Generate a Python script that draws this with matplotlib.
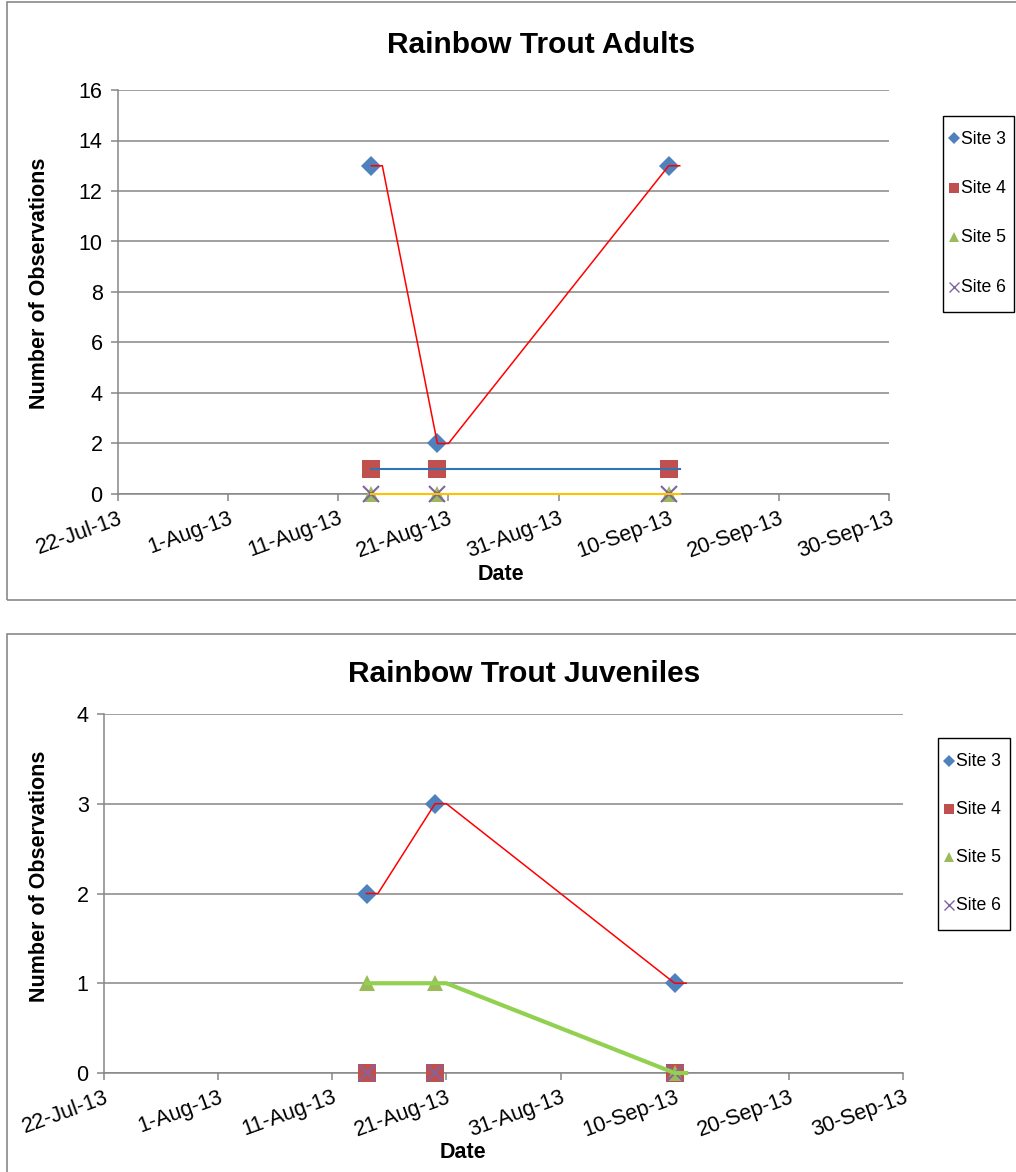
"""
Rainbow Trout observations by site (adults and juveniles), Excel-style charts.
Output: out.png
"""

import numpy as np
import pandas as pd
import matplotlib
matplotlib.use("Agg")
import matplotlib.pyplot as plt
import matplotlib.dates as mdates
from matplotlib.lines import Line2D
from matplotlib.patches import Rectangle

plt.rcParams["font.family"] = ["Liberation Sans", "DejaVu Sans"]

# ── Data ──────────────────────────────────────────────────────────────
SURVEY_DATES = ["2013-08-14", "2013-08-20", "2013-09-10"]
SITES = ["Site 3", "Site 4", "Site 5", "Site 6"]

ADULT_SITE3 = [13, 2, 13]
ADULT_SITE4 = [1, 1, 1]
ADULT_SITE5 = [0, 0, 0]
ADULT_SITE6 = [0, 0, 0]

JUV_SITE3 = [2, 3, 1]
JUV_SITE4 = [0, 0, 0]
JUV_SITE5 = [1, 1, 0]
JUV_SITE6 = [0, 0, 0]

X_START, X_END = "2013-07-22", "2013-09-30"
ADULT_YTICKS = [0, 2, 4, 6, 8, 10, 12, 14, 16]
JUV_YTICKS = [0, 1, 2, 3, 4]

# ── Styles ────────────────────────────────────────────────────────────
W, H = 1016, 1172
GRID = "#868686"
MARKERS = {
    "Site 3": dict(marker="D", color="#4F81BD", ms=10),
    "Site 4": dict(marker="s", color="#C0504D", ms=12.5),
    "Site 5": dict(marker="^", color="#9BBB59", ms=12),
    "Site 6": dict(marker="x", color="#8064A2", ms=11, mew=1.5),
}


def fx(px):
    return px / W


def fy(py):
    return 1 - py / H


def step_line(dates, vals):
    """Each value held for one day after its survey date, then joined."""
    xs, ys = [], []
    for d, v in zip(dates, vals):
        xs += [d, d + pd.Timedelta(days=1)]
        ys += [v, v]
    return xs, ys


def draw_legend(fig, box, first_row, row_step):
    l, t, r, b = box
    fig.patches.append(Rectangle((fx(l), fy(b)), fx(r - l), (b - t) / H,
                                 transform=fig.transFigure, fill=False,
                                 edgecolor="black", lw=1.0))
    for i, site in enumerate(SITES):
        st = MARKERS[site]
        y = first_row + i * row_step
        fig.add_artist(Line2D([fx(l + 11)], [fy(y - 1)],
                              transform=fig.transFigure,
                              linestyle="none", marker=st["marker"],
                              color=st["color"], ms=st["ms"] * 0.6,
                              mew=1.0 if site == "Site 6" else 0))
        fig.text(fx(l + 18), fy(y), site, ha="left", va="center",
                 fontsize=12.7)


def draw_panel(fig, rect_px, box_px, data, lines, yticks, title, title_xy,
               ylab_xy, xlab_xy):
    l, t, r, b = rect_px
    ax = fig.add_axes([fx(l), fy(b), fx(r - l), (b - t) / H])

    # outer chart border
    bl, bt, br, bb = box_px
    fig.patches.append(Rectangle((fx(bl), fy(bb)), fx(br - bl), (bb - bt) / H,
                                 transform=fig.transFigure, fill=False,
                                 edgecolor="#898989", lw=1.2))

    dates = pd.to_datetime(SURVEY_DATES)
    for site, vals in zip(SITES, data):
        st = MARKERS[site]
        ax.plot(dates, vals, linestyle="none", marker=st["marker"],
                color=st["color"], ms=st["ms"], mew=st.get("mew", 0),
                clip_on=False, zorder=3)

    for vals, color, lw in lines:
        xs, ys = step_line(dates, vals)
        ax.plot(xs, ys, color=color, lw=lw, clip_on=False, zorder=4)

    ax.set_xlim(pd.Timestamp(X_START), pd.Timestamp(X_END))
    ax.set_ylim(yticks[0], yticks[-1])
    ax.set_xticks(pd.date_range(X_START, X_END, freq="10D"))
    ax.xaxis.set_major_formatter(mdates.DateFormatter("%-d-%b-%y"))
    ax.set_yticks(yticks)
    ax.yaxis.grid(True, color=GRID, lw=1.1)
    ax.set_axisbelow(True)
    for s in ["top", "right"]:
        ax.spines[s].set_visible(False)
    for s in ["left", "bottom"]:
        ax.spines[s].set_color(GRID)
        ax.spines[s].set_linewidth(1.1)
    ax.tick_params(axis="both", colors=GRID, length=5, width=1.1,
                   labelcolor="black", labelsize=15.5)
    ax.tick_params(axis="y", pad=6)
    ax.tick_params(axis="x", pad=5)
    for lab in ax.get_xticklabels():
        lab.set_rotation(20)
        lab.set_ha("right")
        lab.set_va("top")
        lab.set_rotation_mode("anchor")

    fig.text(fx(title_xy[0]), fy(title_xy[1]), title, ha="center",
             va="center", fontsize=21.5, fontweight="bold")
    fig.text(fx(ylab_xy[0]), fy(ylab_xy[1]), "Number of Observations",
             ha="center", va="center", rotation=90, fontsize=15.5,
             fontweight="bold")
    fig.text(fx(xlab_xy[0]), fy(xlab_xy[1]), "Date", ha="center",
             va="center", fontsize=15.5, fontweight="bold")
    return ax


def main():
    fig = plt.figure(figsize=(W / 100, H / 100), dpi=100)

    draw_panel(
        fig, (118, 90, 889, 494), (7, 2, 1020, 600),
        [ADULT_SITE3, ADULT_SITE4, ADULT_SITE5, ADULT_SITE6],
        [(ADULT_SITE3, "#FF0000", 1.1), (ADULT_SITE4, "#2E75B6", 1.5),
         (ADULT_SITE5, "#FFC000", 1.5)],
        ADULT_YTICKS, "Rainbow Trout Adults", (541, 45), (40, 283),
        (501, 575),
    )
    draw_legend(fig, (943, 116, 1014, 312), 139, 49.5)

    draw_panel(
        fig, (104, 714, 903, 1073), (7, 634, 1020, 1180),
        [JUV_SITE3, JUV_SITE4, JUV_SITE5, JUV_SITE6],
        [(JUV_SITE3, "#FF0000", 1.1), (JUV_SITE5, "#92D050", 3.0)],
        JUV_YTICKS, "Rainbow Trout Juveniles", (524, 674), (40, 876),
        (463, 1153),
    )
    draw_legend(fig, (938, 738, 1010, 930), 762, 48)

    fig.savefig("out.png", dpi=100)
    plt.close(fig)


if __name__ == "__main__":
    main()
